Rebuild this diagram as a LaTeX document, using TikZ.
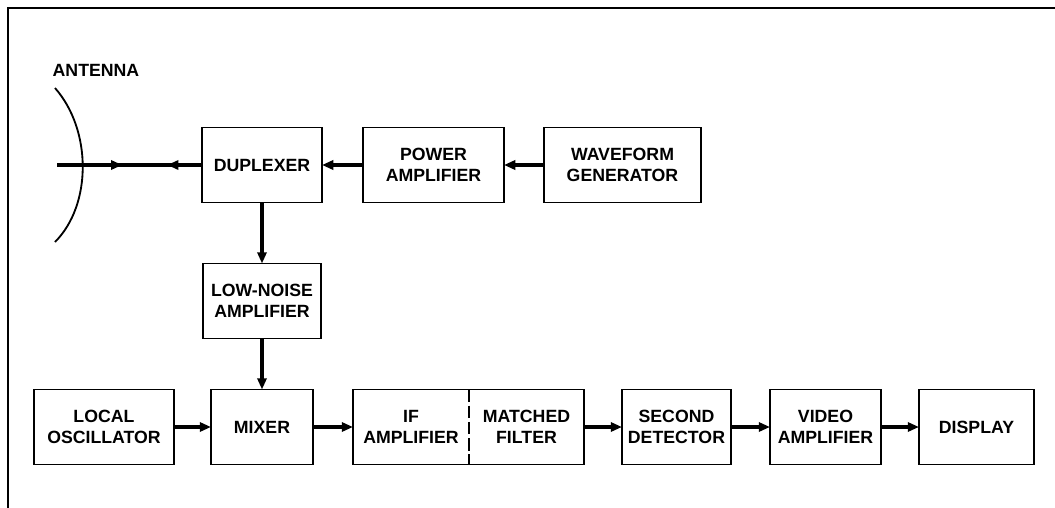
\documentclass[tikz,border=0pt]{standalone}
\usepackage{fontspec}
\setmainfont{Liberation Sans}
\usetikzlibrary{arrows.meta, positioning, decorations.markings}

\begin{document}
\begin{tikzpicture}[
        font=\fontsize{12.6}{15}\selectfont\bfseries, node distance=1cm,
        box/.style={draw, line width=1.3pt, outer sep=0pt, minimum height=1.875cm, align=center, inner sep=1pt},
        half/.style={outer sep=0pt, minimum height=1.875cm, align=center, inner sep=1pt},
        arr/.style={-{Triangle[length=8pt, width=6.5pt]}, line width=2.2pt}
    ]
        \useasboundingbox (0,0) rectangle (26.375,-12.7);
        \draw[line width=1.4pt] (0.2,-12.7) -- (0.2,-0.2) -- (26.375,-0.2);

        \node[box, minimum width=3.0cm] at (6.55,-4.125) (dup) {DUPLEXER};
        \node[box, minimum width=3.525cm, right=1.025cm of dup] (pwr)  {POWER\\AMPLIFIER};
        \node[box, minimum width=3.925cm, right=1.0cm of pwr]   (wave) {WAVEFORM\\GENERATOR};
        \node[box, minimum width=2.95cm,  below=1.525cm of dup] (lna)  {LOW-NOISE\\AMPLIFIER};
        \node[box, minimum width=2.55cm,  below=1.275cm of lna] (mix)  {MIXER};
        \node[box, minimum width=3.5cm,   left=0.925cm of mix]  (lo)   {LOCAL\\OSCILLATOR};
        \node[half, minimum width=2.9cm,  right=1.0cm of mix]   (ifa)  {IF\\AMPLIFIER};
        \node[half, minimum width=2.875cm,right=0pt of ifa]     (mf)   {MATCHED\\FILTER};
        \node[box, minimum width=2.725cm, right=0.95cm of mf]   (sd)   {SECOND\\DETECTOR};
        \node[box, minimum width=2.775cm, right=0.975cm of sd]  (va)   {VIDEO\\AMPLIFIER};
        \node[box, minimum width=2.875cm, right=0.95cm of va]   (disp) {DISPLAY};

        \draw[line width=1.3pt] (ifa.north west) rectangle (mf.south east);
        \draw[line width=1.3pt, dash pattern=on 9pt off 2.5pt] (ifa.north east) -- (ifa.south east);

        \node at (2.4,-1.75) (antlabel) {ANTENNA};
        \coordinate (ant) at (1.425,-4.125);
        \draw[line width=1.3pt] (1.375,-2.2) .. controls (2.3,-3.25) and (2.3,-5.125) .. (1.375,-6.05);
        \draw[line width=2.2pt, postaction={decorate}, decoration={markings,
            mark=at position 0.45 with {\arrow{Triangle[length=8pt, width=6.5pt]}},
            mark=at position 0.76 with {\arrowreversed{Triangle[length=8pt, width=6.5pt]}}}]
            (ant) -- (dup.west);

        \draw[arr] (pwr)  -- (dup);
        \draw[arr] (wave) -- (pwr);
        \draw[arr] (dup)  -- (lna);
        \draw[arr] (lna)  -- (mix);
        \draw[arr] (lo)   -- (mix);
        \draw[arr] (mix)  -- (ifa);
        \draw[arr] (mf)   -- (sd);
        \draw[arr] (sd)   -- (va);
        \draw[arr] (va)   -- (disp);
    \end{tikzpicture}
\end{document}
